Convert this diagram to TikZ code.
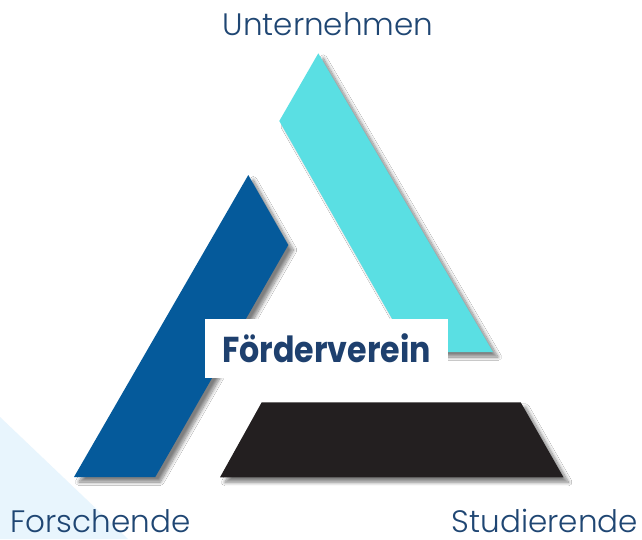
\documentclass[tikz,border=0pt]{standalone}
\usepackage{fontspec}
\setmainfont{Poppins}
\newfontfamily\thinfont{Poppins Light}
\newfontfamily\boldfont{Poppins Bold}[FakeStretch=0.88]
\usetikzlibrary{shadows.blur}
\definecolor{navy}{RGB}{31,70,115}
\definecolor{labnavy}{RGB}{30,64,110}
\definecolor{bluebar}{RGB}{5,90,155}
\definecolor{cyanbar}{RGB}{90,223,227}
\definecolor{blackbar}{RGB}{35,31,32}
\definecolor{paleblue}{RGB}{232,245,253}
\tikzset{
  bar/.style={blur shadow={shadow xshift=5pt, shadow yshift=-5pt, shadow blur radius=3.5pt, shadow blur steps=10, shadow opacity=50}},
  corner/.style={font=\thinfont\fontsize{31}{31}\selectfont, text=navy, inner sep=0pt, text depth=0pt, anchor=base},
  center/.style={font=\boldfont\fontsize{36}{36}\selectfont, text=labnavy, fill=white, inner sep=0pt, minimum width=243pt, minimum height=59pt}
}
\begin{document}
\begin{tikzpicture}[x=1pt,y=-1pt]
\useasboundingbox (0,0) rectangle (642,539);
\fill[white] (0,0) rectangle (642,539);
\fill[paleblue] (0,417) -- (0,539) -- (128,539) -- cycle;
% bars
\fill[cyanbar,bar] (318.3,53.3) -- (493,352) -- (411,352) -- (279.3,121) -- cycle;
\fill[bluebar,bar] (248.3,175) -- (288.3,245) -- (155.3,477) -- (74,477) -- cycle;
\fill[blackbar,bar] (261.7,402.3) -- (520.7,402.3) -- (563.5,477.3) -- (220,477.3) -- cycle;
% labels
\node[center] (fv) at (326.5,348.5) {Förderverein};
\node[corner] (un) at (328,35) {Unternehmen};
\node[corner] (fo) at (100.5,532.5) {Forschende};
\node[corner] (st) at (545,532.5) {Studierende};
\end{tikzpicture}
\end{document}
